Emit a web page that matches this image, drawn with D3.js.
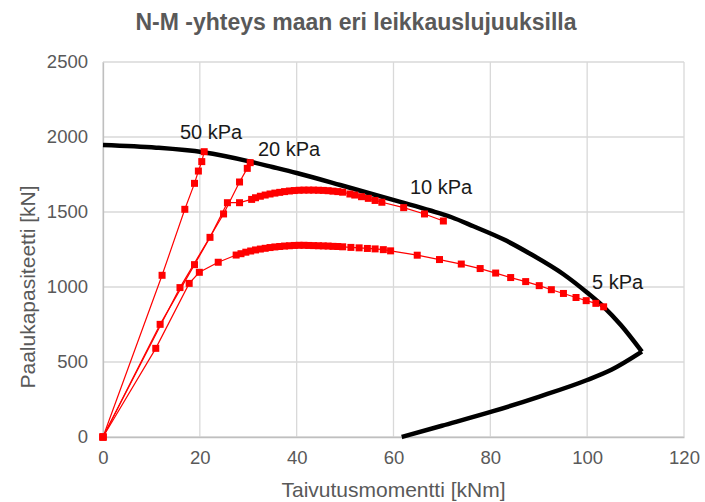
<!DOCTYPE html>
<meta charset="utf-8">
<script src="https://d3js.org/d3.v7.min.js"></script>
<style>
  body { margin: 0; background: #fff; }
  text { font-family: "Liberation Sans", Arial, sans-serif; }
</style>
<div id="chart"></div>
<script>
// interaction curve (black), upper and lower branch
var upperM = [0, 11, 20.7, 30.4, 35, 40, 49, 55, 61.4, 67.6, 72, 76.5, 82.7, 88.2, 95.1, 99.9, 103.4, 107, 111.3]
var upperN = [1947, 1929, 1898, 1836, 1800, 1760, 1680, 1625, 1567, 1510, 1465, 1405, 1318, 1222, 1085, 965, 868, 745, 569]
var lowerM = [61.7, 70, 80.6, 90, 100, 105, 111.3]
var lowerN = [0, 75, 172, 268, 380, 448, 569]

// 5 kPa
var m5 = [0, 10.9, 17.8, 19.9, 23.8, 27.5,
  28.5, 29.5, 30.5, 31.5, 32.5, 33.5, 34.5, 35.5, 36.5, 37.5, 38.5, 39.5, 40.5, 41.5, 42.5, 43.5, 44.5, 45.5, 46.5, 47.5, 48.5, 49.5,
  51.2, 52.9, 54.6, 56.2, 57.9, 59.4, 64.9, 69.5, 74, 77.9, 81.1, 84.2, 87.3, 90.1, 92.6, 95.1, 97.7, 99.8, 101.8, 103.4]
var n5 = [0, 591, 1024, 1098, 1165, 1213,
  1222, 1232, 1240, 1247, 1253, 1258, 1263, 1267, 1270, 1273, 1275, 1277, 1278, 1278, 1277, 1276, 1275, 1274, 1273, 1271, 1270, 1268,
  1264, 1261, 1257, 1254, 1249, 1241, 1212, 1183, 1153, 1123, 1093, 1063, 1036, 1009, 982, 957, 930, 909, 891, 868]

// 10 kPa
var m10 = [0, 11.8, 18.9, 22.1, 25.7, 28.2, 30.7,
  31.5, 32.5, 33.5, 34.5, 35.5, 36.5, 37.5, 38.5, 39.5, 40.5, 41.5, 42.5, 43.5, 44.5, 45.5, 46.5, 47.5, 48.5, 49.5,
  51, 52, 53.4, 54.8, 56.2, 57.6, 62.1, 66.4, 70.3]
var n10 = [0, 751, 1149, 1331, 1562, 1562, 1584,
  1595, 1605, 1613, 1620, 1626, 1631, 1636, 1640, 1643, 1645, 1646, 1646, 1646, 1645, 1644, 1642, 1639, 1636, 1632,
  1620, 1613, 1602, 1591, 1577, 1565, 1529, 1487, 1440]

// 20 kPa
var m20 = [0, 15.9, 24.9, 28.2, 29.8, 30.4]
var n20 = [0, 996, 1487, 1700, 1791, 1829]

// 50 kPa
var m50 = [0, 12.2, 16.9, 18.9, 19.7, 20.4, 20.9]
var n50 = [0, 1078, 1518, 1691, 1773, 1836, 1902]

var seriesNames = ["5 kPa", "10 kPa", "20 kPa", "50 kPa"]
var labelM = [101, 63.4, 32, 15.9]
var labelN = [985, 1623, 1873, 1990]

var xTicks = [0, 20, 40, 60, 80, 100, 120]
var yTicks = [0, 500, 1000, 1500, 2000, 2500]

var width = 705, height = 502
var margin = {top: 62, right: 21, bottom: 65, left: 103}

var svg = d3.select("#chart").append("svg")
  .attr("width", width)
  .attr("height", height)

var x = d3.scaleLinear().domain([0, 120]).range([margin.left, width - margin.right])
var y = d3.scaleLinear().domain([0, 2500]).range([height - margin.bottom, margin.top])

// gridlines
svg.append("g").selectAll("line")
  .data(xTicks)
  .enter().append("line")
  .attr("x1", d => x(d)).attr("x2", d => x(d))
  .attr("y1", y(0)).attr("y2", y(2500))
  .attr("stroke", "#d9d9d9").attr("stroke-width", 1.3)
svg.append("g").selectAll("line")
  .data(yTicks)
  .enter().append("line")
  .attr("x1", x(0)).attr("x2", x(120))
  .attr("y1", d => y(d)).attr("y2", d => y(d))
  .attr("stroke", "#d9d9d9").attr("stroke-width", 1.3)

// axes
var xAxis = svg.append("g")
  .attr("transform", "translate(0," + y(0) + ")")
  .call(d3.axisBottom(x).tickValues(xTicks).tickSize(0).tickPadding(14))
var yAxis = svg.append("g")
  .attr("transform", "translate(" + x(0) + ",0)")
  .call(d3.axisLeft(y).tickValues(yTicks).tickFormat(d3.format("d")).tickSize(0).tickPadding(15))
;[xAxis, yAxis].forEach(function (a) {
  a.select(".domain").attr("stroke", "#bfbfbf").attr("stroke-width", 1.3)
  a.selectAll("text").attr("fill", "#595959").style("font-size", "18.5px")
})

// black interaction curve
var line = d3.line().x(d => x(d[0])).y(d => y(d[1])).curve(d3.curveMonotoneX)
;[d3.zip(upperM, upperN), d3.zip(lowerM, lowerN)].forEach(function (b) {
  svg.append("path")
    .datum(b)
    .attr("d", line)
    .attr("fill", "none")
    .attr("stroke", "#000")
    .attr("stroke-width", 4.5)
    .attr("stroke-linejoin", "round")
})

// red series
var series = [d3.zip(m5, n5), d3.zip(m10, n10), d3.zip(m20, n20), d3.zip(m50, n50)]
series.forEach(function (s) {
  var g = svg.append("g")
  g.append("path")
    .datum(s)
    .attr("d", d3.line().x(d => x(d[0])).y(d => y(d[1])))
    .attr("fill", "none")
    .attr("stroke", "#ff0000")
    .attr("stroke-width", 1.2)
  g.selectAll("rect")
    .data(s)
    .enter().append("rect")
    .attr("x", d => x(d[0]) - 3.5)
    .attr("y", d => y(d[1]) - 3.5)
    .attr("width", 7).attr("height", 7)
    .attr("fill", "#ff0000")
})

// series labels
svg.append("g").selectAll("text")
  .data(seriesNames)
  .enter().append("text")
  .attr("x", (d, i) => x(labelM[i]))
  .attr("y", (d, i) => y(labelN[i]))
  .attr("fill", "#1a1a1a")
  .style("font-size", "20px")
  .text(d => d)

// title
svg.append("text")
  .attr("x", 356)
  .attr("y", 30)
  .attr("text-anchor", "middle")
  .attr("fill", "#595959")
  .style("font-size", "23px")
  .style("font-weight", "bold")
  .text("N-M -yhteys maan eri leikkauslujuuksilla")

// axis titles
svg.append("text")
  .attr("x", x(60))
  .attr("y", 497)
  .attr("text-anchor", "middle")
  .attr("fill", "#595959")
  .style("font-size", "21px")
  .text("Taivutusmomentti [kNm]")

svg.append("text")
  .attr("transform", "translate(35," + y(1000) + ") rotate(-90)")
  .attr("text-anchor", "middle")
  .attr("fill", "#595959")
  .style("font-size", "21px")
  .text("Paalukapasiteetti [kN]")
</script>
